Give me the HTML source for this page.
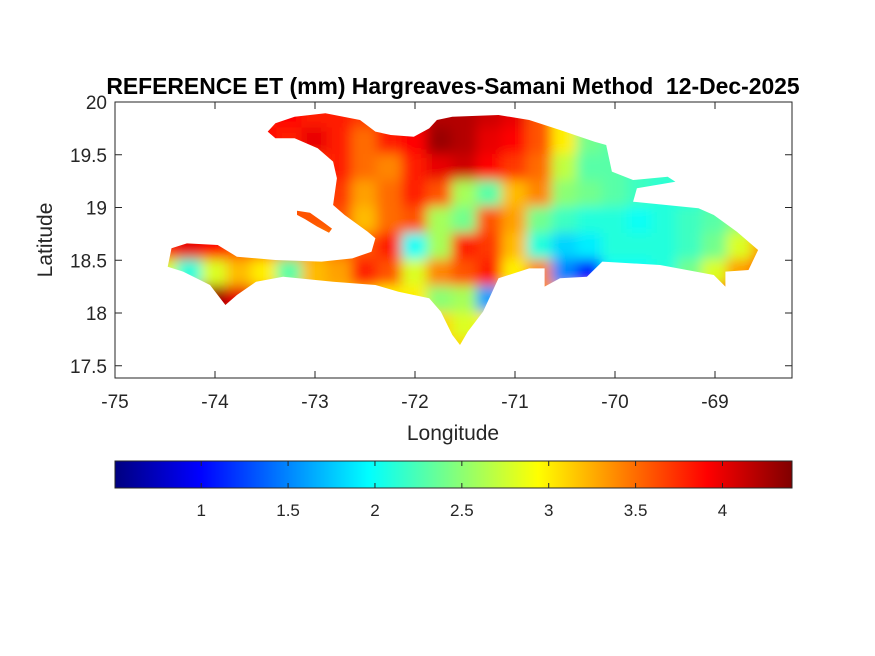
<!DOCTYPE html>
<html><head><meta charset="utf-8"><style>
body{margin:0;background:#fff;}
svg{display:block;font-family:"Liberation Sans",Arial,sans-serif;}
</style></head><body>
<svg id="chart" width="875" height="656" viewBox="0 0 875 656">
<defs>
<clipPath id="islandClip"><path id="clipPath1" d=""/></clipPath>
<clipPath id="axClip"><rect x="115" y="102" width="677" height="276"/></clipPath>
<filter id="blur" x="-10%" y="-10%" width="120%" height="120%"><feGaussianBlur stdDeviation="6"/></filter>
<linearGradient id="jet" x1="0" x2="1" y1="0" y2="0">
<stop offset="0" stop-color="#000080"/><stop offset="0.125" stop-color="#0000ff"/><stop offset="0.375" stop-color="#00ffff"/><stop offset="0.625" stop-color="#ffff00"/><stop offset="0.875" stop-color="#ff0000"/><stop offset="1" stop-color="#800000"/>
</linearGradient>
</defs>
<rect x="0" y="0" width="875" height="656" fill="#fff"/>
<g id="mapLayer" clip-path="url(#axClip)"></g>
<g id="axes"></g>
<text x="453" y="94" text-anchor="middle" font-size="22.9" font-weight="bold" fill="#000">REFERENCE ET (mm) Hargreaves-Samani Method&#160; 12-Dec-2025</text>
<text x="453" y="440" text-anchor="middle" font-size="21" fill="#262626">Longitude</text>
<text x="0" y="0" transform="translate(52,240) rotate(-90)" text-anchor="middle" font-size="21" fill="#262626">Latitude</text>
<g id="cbar"></g>
</svg>
<script>
const lonCenters=[-74.5,-74.25,-74,-73.75,-73.5,-73.25,-73,-72.75,-72.5,-72.25,-72,-71.75,-71.5,-71.25,-71,-70.75,-70.5,-70.25,-70,-69.75,-69.5,-69.25,-69,-68.75,-68.5];
const latCenters=[19.875,19.625,19.375,19.125,18.875,18.625,18.375,18.125,17.875,17.625];
const etValues=[
[3.8,3.8,3.8,3.8,3.8,3.9,3.8,3.8,3.7,3.8,4.0,4.2,4.2,4.1,4.0,3.6,3.0,2.4,2.3,2.3,2.3,2.3,2.3,2.3,2.3],
[3.8,3.8,3.8,3.8,3.9,3.8,4.0,3.8,3.5,3.8,3.9,4.3,4.2,4.0,3.9,3.6,3.0,2.4,2.3,2.3,2.3,2.3,2.3,2.3,2.3],
[3.7,3.7,3.7,3.7,3.7,3.7,3.7,3.8,3.5,3.4,3.8,4.0,4.1,3.9,3.7,3.5,2.7,2.3,2.3,2.2,2.2,2.2,2.2,2.2,2.2],
[3.6,3.6,3.6,3.6,3.6,3.6,3.6,3.7,3.3,3.5,3.8,3.6,2.6,2.3,3.2,3.4,2.5,2.4,2.3,2.2,2.1,2.1,2.2,2.2,2.2],
[3.6,3.6,3.6,3.6,3.6,3.6,3.6,3.6,3.2,3.5,3.6,2.6,2.4,3.6,3.3,2.4,2.2,2.1,2.1,2.0,2.1,2.2,2.3,2.5,2.8],
[3.8,4.0,3.9,3.6,3.5,3.4,3.3,3.5,3.6,3.8,2.0,2.6,3.8,3.7,3.2,2.1,1.8,1.9,2.1,2.1,2.1,2.2,2.4,2.8,3.3],
[2.8,2.1,2.8,3.2,3.0,2.3,3.2,3.3,3.8,3.6,2.8,3.4,3.6,3.8,3.0,3.4,1.5,1.1,2.0,2.0,2.1,2.4,2.8,3.3,3.6],
[3.5,3.8,4.3,4.0,3.4,3.2,3.2,3.2,3.2,3.0,3.0,2.5,2.6,1.6,3.2,3.4,3.2,3.2,3.2,3.4,3.5,3.6,3.9,3.8,3.6],
[3.3,3.3,4.1,3.6,3.3,3.3,3.3,3.2,3.1,3.1,3.1,3.1,2.8,3.0,3.2,3.2,3.2,3.2,3.2,3.2,3.2,3.2,3.8,3.6,3.6],
[3.1,3.1,3.1,3.1,3.1,3.1,3.1,3.1,3.1,3.1,3.1,3.1,3.1,3.1,3.1,3.1,3.1,3.1,3.1,3.1,3.1,3.1,3.1,3.1,3.1]];
const xTicks=[-75,-74,-73,-72,-71,-70,-69];
const yTicks=[20,19.5,19,18.5,18,17.5];
const cbarTicks=[1,1.5,2,2.5,3,3.5,4];
const cMin=0.504,cMax=4.40;
const islandLon=[-73.473,-73.396,-73.204,-72.896,-72.550,-72.396,-72.242,-72.012,-71.858,-71.781,-71.627,-71.165,-70.858,-70.550,-70.204,-70.088,-70.031,-69.819,-69.473,-69.396,-69.781,-69.819,-69.165,-69.012,-68.781,-68.569,-68.665,-68.896,-68.896,-69.012,-69.550,-70.127,-70.281,-70.550,-70.704,-70.704,-70.858,-71.165,-71.242,-71.319,-71.473,-71.550,-71.627,-71.742,-71.858,-72.165,-72.396,-72.819,-73.319,-73.589,-73.781,-73.896,-74.050,-74.319,-74.473,-74.435,-74.281,-73.973,-73.781,-73.396,-72.935,-72.627,-72.435,-72.396,-72.473,-72.704,-72.819,-72.781,-72.819,-72.973,-73.204,-73.396];
const islandLat=[19.719,19.798,19.861,19.893,19.829,19.719,19.687,19.671,19.750,19.829,19.861,19.877,19.829,19.735,19.624,19.592,19.340,19.261,19.292,19.245,19.182,19.055,18.992,18.929,18.771,18.597,18.408,18.392,18.250,18.360,18.455,18.487,18.344,18.329,18.250,18.423,18.423,18.329,18.171,18.013,17.823,17.697,17.792,18.013,18.139,18.202,18.265,18.297,18.344,18.297,18.171,18.076,18.265,18.392,18.439,18.613,18.660,18.645,18.534,18.502,18.487,18.518,18.581,18.708,18.771,18.929,19.024,19.277,19.435,19.561,19.656,19.656];
const gonaveLon=[-73.18,-73.05,-72.93,-72.83,-72.86,-72.98,-73.10,-73.18];
const gonaveLat=[18.97,18.95,18.87,18.80,18.76,18.82,18.89,18.93];
const NS='http://www.w3.org/2000/svg';
function xs(lon){return 115+(lon+75)*100;}
function ys(lat){return 102+(20-lat)*105.5;}
function cbx(v){return 115+(v-cMin)/(cMax-cMin)*677;}
function jet(v){let t=(v-cMin)/(cMax-cMin);t=Math.max(0,Math.min(1,t));
 const r=Math.max(0,Math.min(1,1.5-Math.abs(4*t-3))),g=Math.max(0,Math.min(1,1.5-Math.abs(4*t-2))),b=Math.max(0,Math.min(1,1.5-Math.abs(4*t-1)));
 return 'rgb('+Math.round(r*255)+','+Math.round(g*255)+','+Math.round(b*255)+')';}
function mk(tag,attrs,parent){const e=document.createElementNS(NS,tag);for(const k in attrs)e.setAttribute(k,attrs[k]);parent.appendChild(e);return e;}
function poly(lons,lats){let d='';for(let i=0;i<lons.length;i++)d+=(i?'L':'M')+xs(lons[i]).toFixed(1)+','+ys(lats[i]).toFixed(1);return d+'Z';}
document.getElementById('clipPath1').setAttribute('d',poly(islandLon,islandLat)+poly(gonaveLon,gonaveLat));
const map=document.getElementById('mapLayer');
const clipG=mk('g',{'clip-path':'url(#islandClip)'},map);


const blurG=mk('g',{filter:'url(#blur)'},clipG);
for(let r=0;r<latCenters.length;r++)for(let c=0;c<lonCenters.length;c++){
 const x0=xs(lonCenters[c]-0.125),x1=xs(lonCenters[c]+0.125),y0=ys(latCenters[r]+0.125),y1=ys(latCenters[r]-0.125);
 const cell=mk('rect',{x:x0-1,y:y0-1,width:x1-x0+2,height:y1-y0+2,fill:jet(etValues[r][c])},blurG);
 
 
}
const ax=document.getElementById('axes');
const box=mk('rect',{x:115,y:102,width:677,height:276,fill:'none',stroke:'#262626','stroke-width':1},ax);


xTicks.forEach(v=>{const x=xs(v);
 mk('line',{x1:x,x2:x,y1:378,y2:371,stroke:'#262626'},ax);
 mk('line',{x1:x,x2:x,y1:102,y2:109,stroke:'#262626'},ax);
 const t=mk('text',{x:x,y:408,'text-anchor':'middle','font-size':19,fill:'#262626'},ax);t.textContent=v;
 
 });
yTicks.forEach(v=>{const y=ys(v);
 mk('line',{x1:115,x2:122,y1:y,y2:y,stroke:'#262626'},ax);
 mk('line',{x1:792,x2:785,y1:y,y2:y,stroke:'#262626'},ax);
 const t=mk('text',{x:107,y:y+7,'text-anchor':'end','font-size':19,fill:'#262626'},ax);t.textContent=v;
 
 });
const cb=document.getElementById('cbar');
const cr=mk('rect',{x:115,y:461,width:677,height:27,fill:'url(#jet)',stroke:'#262626','stroke-width':1},cb);


cbarTicks.forEach(v=>{const x=cbx(v);
 mk('line',{x1:x,x2:x,y1:488,y2:483,stroke:'#262626'},cb);
 mk('line',{x1:x,x2:x,y1:461,y2:466,stroke:'#262626'},cb);
 const t=mk('text',{x:x,y:516,'text-anchor':'middle','font-size':17,fill:'#262626'},cb);t.textContent=v;
 
 });
</script>
</body></html>
